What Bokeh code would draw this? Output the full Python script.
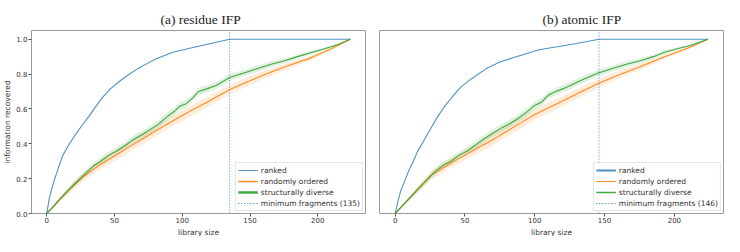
from bokeh.plotting import figure
from bokeh.models import Range1d, FixedTicker, NumeralTickFormatter, Legend, LegendItem, Title
from bokeh.layouts import row
from bokeh.embed import file_html
from bokeh.resources import INLINE

# ---------------- data ----------------
X_TICKS = [0, 50, 100, 150, 200]
Y_TICKS = [0.0, 0.2, 0.4, 0.6, 0.8, 1.0]
X_LIM = (-11.2, 235.2)
Y_LIM = (0.0, 1.05)

titles = ["(a) residue IFP", "(b) atomic IFP"]
x_label = "library size"
y_label = "information recovered"
min_fragments = [135, 146]

# (a) residue IFP
a_ranked_x = [0, 2, 4, 6, 9, 12, 16, 21, 26, 31, 36, 41, 47, 54, 60, 67, 74, 80, 93, 112, 135, 224]
a_ranked_y = [0, 0.09, 0.15, 0.2, 0.27, 0.335, 0.39, 0.45, 0.505, 0.556, 0.612, 0.665, 0.715, 0.76,
              0.795, 0.83, 0.86, 0.885, 0.925, 0.96, 1.0, 1.0]

a_random_x = [0, 5, 10, 15, 20, 26, 30, 35, 40, 50, 60, 70, 80, 90, 100, 110, 120, 135, 150, 165, 180, 195, 210, 224]
a_random_y = [0, 0.042, 0.083, 0.123, 0.162, 0.205, 0.228, 0.256, 0.283, 0.33, 0.378, 0.425, 0.472, 0.518,
              0.562, 0.605, 0.645, 0.712, 0.762, 0.81, 0.853, 0.893, 0.945, 1.0]
a_random_e = [0, 0.008, 0.013, 0.017, 0.021, 0.024, 0.026, 0.027, 0.028, 0.03, 0.031, 0.032, 0.032, 0.032,
              0.032, 0.031, 0.03, 0.028, 0.025, 0.021, 0.017, 0.012, 0.007, 0]

a_diverse_x = [0, 5, 10, 15, 20, 26, 30, 35, 40, 46, 52, 58, 64, 70, 76, 82, 88, 94, 98, 103, 108, 112,
               118, 125, 135, 145, 155, 165, 175, 185, 196, 205, 215, 224]
a_diverse_y = [0, 0.04, 0.085, 0.125, 0.165, 0.21, 0.24, 0.275, 0.30, 0.335, 0.36, 0.39, 0.425, 0.45,
               0.48, 0.51, 0.55, 0.585, 0.615, 0.63, 0.665, 0.70, 0.715, 0.735, 0.78, 0.805, 0.83,
               0.855, 0.875, 0.90, 0.925, 0.945, 0.97, 1.0]
a_diverse_e = [0, 0.007, 0.011, 0.014, 0.016, 0.018, 0.019, 0.02, 0.021, 0.022, 0.022, 0.023, 0.023,
               0.023, 0.023, 0.023, 0.023, 0.023, 0.022, 0.022, 0.022, 0.022, 0.021, 0.021, 0.02,
               0.019, 0.018, 0.017, 0.015, 0.013, 0.01, 0.008, 0.005, 0]

# (b) atomic IFP
b_ranked_x = [0, 2, 4, 7, 10, 13, 16, 20, 25, 30, 35, 41, 47, 55, 65, 75, 85, 95, 103, 115, 130, 146, 224]
b_ranked_y = [0, 0.07, 0.13, 0.19, 0.25, 0.30, 0.355, 0.41, 0.48, 0.55, 0.61, 0.67, 0.725, 0.775, 0.83,
              0.869, 0.895, 0.92, 0.94, 0.955, 0.975, 1.0, 1.0]

b_random_x = [0, 5, 10, 15, 20, 26, 30, 35, 40, 50, 60, 68, 80, 90, 100, 110, 120, 130, 145, 160, 175, 193, 210, 224]
b_random_y = [0, 0.043, 0.085, 0.128, 0.17, 0.22, 0.24, 0.265, 0.29, 0.335, 0.38, 0.415, 0.472, 0.52,
              0.568, 0.607, 0.646, 0.686, 0.745, 0.795, 0.84, 0.90, 0.95, 1.0]
b_random_e = [0, 0.008, 0.013, 0.017, 0.021, 0.024, 0.026, 0.027, 0.028, 0.03, 0.031, 0.032, 0.032, 0.032,
              0.032, 0.031, 0.03, 0.029, 0.026, 0.022, 0.018, 0.012, 0.007, 0]

b_diverse_x = [0, 5, 10, 15, 20, 26, 30, 35, 40, 46, 52, 58, 64, 70, 76, 82, 88, 94, 100, 105, 110, 115,
               120, 127, 135, 145, 155, 165, 175, 185, 193, 202, 212, 224]
b_diverse_y = [0, 0.042, 0.085, 0.128, 0.17, 0.22, 0.25, 0.28, 0.30, 0.335, 0.36, 0.395, 0.43, 0.46,
               0.49, 0.515, 0.545, 0.58, 0.62, 0.64, 0.68, 0.70, 0.715, 0.74, 0.77, 0.805, 0.83,
               0.855, 0.875, 0.90, 0.925, 0.945, 0.965, 1.0]
b_diverse_e = [0, 0.007, 0.011, 0.014, 0.016, 0.018, 0.019, 0.02, 0.021, 0.022, 0.022, 0.023, 0.023,
               0.023, 0.023, 0.023, 0.023, 0.023, 0.022, 0.022, 0.022, 0.022, 0.021, 0.021, 0.02,
               0.019, 0.018, 0.017, 0.015, 0.013, 0.01, 0.008, 0.005, 0]

legend_labels = ["ranked", "randomly ordered", "structurally diverse", "minimum fragments"]

BLUE, ORANGE, GREEN = "#1f77b4", "#ff7f0e", "#2ca02c"
FONT = "DejaVu Sans"
TEXT = "#333333"
NAN = float("nan")


def panel(idx, width, height, borders, title_offset, ranked, random, diverse, mf, legend_widths, show_y):
    bl, br, bt, bb = borders
    p = figure(width=width, height=height, x_range=Range1d(*X_LIM), y_range=Range1d(*Y_LIM),
               output_backend="svg", toolbar_location=None, title=titles[idx],
               min_border_left=bl, min_border_right=br, min_border_top=bt, min_border_bottom=bb)
    p.title.text_font = "Liberation Serif"
    p.title.text_font_size = "13.5px"
    p.title.text_font_style = "normal"
    p.title.text_color = "#222222"
    p.title.align = "left"
    p.title.offset = title_offset
    p.title.standoff = 8
    p.outline_line_color = "#999999"
    p.outline_line_width = 1
    p.xgrid.visible = False
    p.ygrid.visible = False
    p.background_fill_color = "white"
    p.border_fill_color = "white"

    rx, ry = ranked
    ox, oy, oe = random
    gx, gy, ge = diverse

    p.varea(x=ox, y1=[a - b for a, b in zip(oy, oe)], y2=[a + b for a, b in zip(oy, oe)],
            fill_color=ORANGE, fill_alpha=0.15)
    p.varea(x=gx, y1=[a - b for a, b in zip(gy, ge)], y2=[a + b for a, b in zip(gy, ge)],
            fill_color=GREEN, fill_alpha=0.15)
    p.line(rx, ry, line_color=BLUE, line_width=1.1, line_alpha=0.8)
    p.line(ox, oy, line_color=ORANGE, line_width=1.1, line_alpha=0.9)
    p.line(gx, gy, line_color=GREEN, line_width=1.1, line_alpha=0.9)
    p.line([mf, mf], list(Y_LIM), line_color=BLUE, line_width=1, line_dash="1 2", line_alpha=0.9)

    # legend proxies (not drawn inside the frame)
    w = legend_widths
    r1 = p.line([NAN], [NAN], line_color=BLUE, line_width=w[0], line_alpha=0.8)
    r2 = p.line([NAN], [NAN], line_color=ORANGE, line_width=w[1], line_alpha=0.9)
    r3 = p.line([NAN], [NAN], line_color=GREEN, line_width=w[2], line_alpha=0.9)
    r4 = p.line([NAN], [NAN], line_color=BLUE, line_width=1, line_dash="1 2")
    items = [LegendItem(label=legend_labels[0], renderers=[r1]),
             LegendItem(label=legend_labels[1], renderers=[r2]),
             LegendItem(label=legend_labels[2], renderers=[r3]),
             LegendItem(label=f"{legend_labels[3]} ({mf})", renderers=[r4])]
    leg = Legend(items=items, location="bottom_right")
    leg.label_text_font = FONT
    leg.label_text_font_size = "7.5px"
    leg.label_text_color = TEXT
    leg.label_height = 10
    leg.glyph_height = 10
    leg.glyph_width = 20
    leg.label_standoff = 3
    leg.spacing = 1
    leg.padding = 2
    leg.margin = 2
    leg.border_line_color = "#cccccc"
    leg.border_line_width = 1
    leg.background_fill_alpha = 0.85
    p.add_layout(leg, "center")

    for ax in (p.xaxis[0], p.yaxis[0]):
        ax.major_label_text_font = FONT
        ax.major_label_text_font_size = "7px"
        ax.major_label_text_color = TEXT
        ax.major_label_text_line_height = 1.0
        ax.axis_label_text_font = FONT
        ax.axis_label_text_font_size = "7.5px"
        ax.axis_label_text_font_style = "normal"
        ax.axis_label_text_color = TEXT
        ax.axis_label_text_line_height = 1.0
        ax.axis_line_color = None
        ax.major_tick_line_color = "#555555"
        ax.major_tick_out = 3
        ax.major_tick_in = 0
        ax.minor_tick_line_color = None
        ax.major_label_standoff = 1
        ax.axis_label_standoff = 1

    p.xaxis.major_label_standoff = 0
    p.xaxis.ticker = FixedTicker(ticks=X_TICKS)
    p.yaxis.ticker = FixedTicker(ticks=Y_TICKS)
    p.yaxis.formatter = NumeralTickFormatter(format="0.0")
    if show_y:
        p.yaxis.axis_label = y_label
    else:
        p.yaxis.visible = False

    # x-axis title as a title below the axis
    xt = Title(text=x_label, align="center", text_font=FONT, text_font_size="7.5px",
               text_font_style="normal", text_color=TEXT, standoff=0)
    p.add_layout(xt, "below")
    return p


p1 = panel(0, 372, 236, (28, 7, 24, 0), 129,
           (a_ranked_x, a_ranked_y), (a_random_x, a_random_y, a_random_e),
           (a_diverse_x, a_diverse_y, a_diverse_e), min_fragments[0], (1, 1.5, 2.5), True)
p2 = panel(1, 352, 236, (7, 1, 30, 0), 163,
           (b_ranked_x, b_ranked_y), (b_random_x, b_random_y, b_random_e),
           (b_diverse_x, b_diverse_y, b_diverse_e), min_fragments[1], (2, 1, 1.3), False)

layout = row(p1, p2)
open("out.html", "w").write(file_html(layout, INLINE))
